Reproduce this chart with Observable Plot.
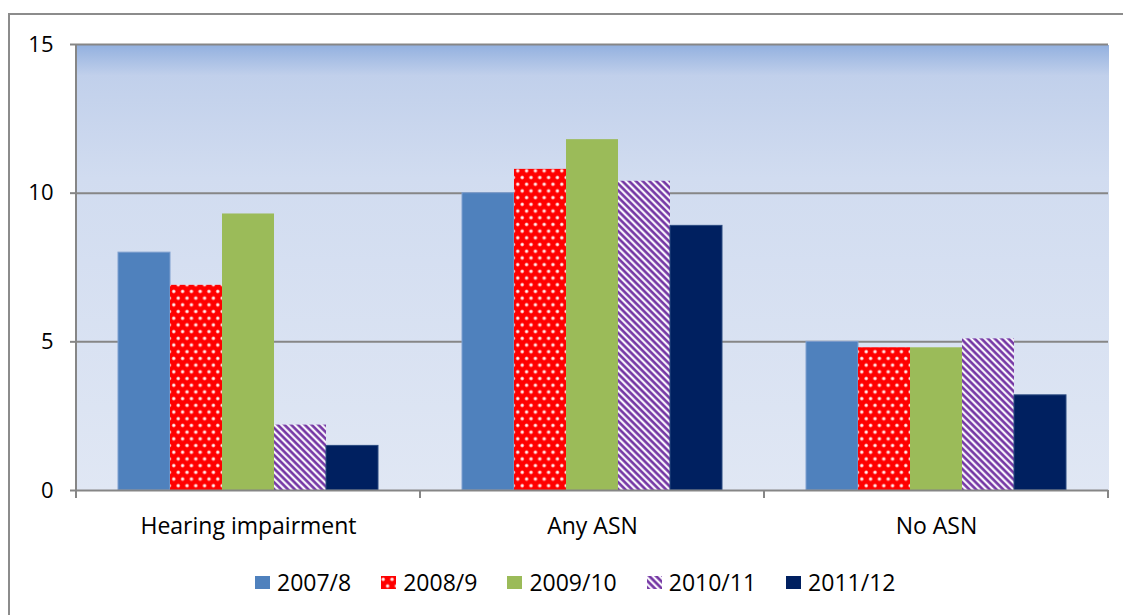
<!DOCTYPE html>
<html>
<head>
<meta charset="utf-8">
<script src="https://cdn.jsdelivr.net/npm/d3@7"></script>
<script src="https://cdn.jsdelivr.net/npm/@observablehq/plot@0.6"></script>
<style>
  body { margin: 0; background: #fff; font-family: "Open Sans", "Noto Sans", sans-serif; }
  #wrap { position: relative; width: 1123px; height: 615px; overflow: hidden; background: #fff; }
  #border { position: absolute; left: 8px; top: 13px; width: 1200px; height: 700px; border: 2px solid #8c8c8c; box-sizing: border-box; }
  #chart { position: absolute; left: 0; top: 0; }
  #legend { position: absolute; top: 571px; left: 255px; display: flex; align-items: center; font-size: 23px; line-height: 23px; color: #000; white-space: nowrap; }
  .item { display: flex; align-items: center; margin-right: 30px; }
  .item svg { margin-right: 7px; display: block; }
</style>
</head>
<body>
<div id="wrap">
  <div id="border"></div>
  <div id="chart"></div>
  <div id="legend"></div>
</div>
<script>
const categories = ["Hearing impairment", "Any ASN", "No ASN"];
const years = ["2007/8", "2008/9", "2009/10", "2010/11", "2011/12"];
const v2007_8  = [8.0, 10.0, 5.0];
const v2008_9  = [6.9, 10.8, 4.8];
const v2009_10 = [9.3, 11.8, 4.8];
const v2010_11 = [2.2, 10.4, 5.1];
const v2011_12 = [1.5, 8.9, 3.2];
const yTicks = [0, 5, 10, 15];

const seriesValues = [v2007_8, v2008_9, v2009_10, v2010_11, v2011_12];
const fills = ["#4f81bd", "url(#dots)", "#9bbb59", "url(#stripes)", "#002060"];
const strokes = ["#7f9fcf", "none", "none", "none", "#2a4a80"];

const rows = [];
years.forEach((yr, i) => {
  categories.forEach((cat, j) => {
    rows.push({category: cat, year: yr, value: seriesValues[i][j]});
  });
});

const font = "'Open Sans', 'Noto Sans', sans-serif";

const chart = Plot.plot({
  width: 1123,
  height: 530,
  marginLeft: 76,
  marginRight: 15,
  marginTop: 44,
  marginBottom: 40,
  style: { fontFamily: font, fontSize: "23px", color: "#000", background: "transparent", overflow: "visible" },
  fx: { domain: categories, padding: 0, axis: null, label: null },
  x: { domain: years, paddingInner: 0, paddingOuter: 0.758, axis: null },
  y: { domain: [0, 15], axis: null, label: null },
  color: { domain: years, range: fills },
  marks: [
    Plot.frame({ fill: "url(#bgGrad)", stroke: null, shapeRendering: "crispEdges", insetRight: -0.5 }),
    Plot.gridY(yTicks.filter(d => d > 0), { stroke: "#868686", strokeOpacity: 1, strokeWidth: 2 }),
    Plot.barY(rows, {
      fx: "category", x: "year", y: "value", fill: "year",
      stroke: d => strokes[years.indexOf(d.year)], strokeWidth: 1, inset: 0
    }),
    Plot.ruleY([0], { stroke: "#868686", strokeWidth: 2 }),
    Plot.axisY(yTicks, { tickSize: 6, tickPadding: 17, stroke: "#868686", strokeWidth: 2, fontSize: 22, label: null }),
    Plot.axisFx({ anchor: "bottom", tickSize: 0, tickPadding: 27, label: null, fontSize: 23 })
  ]
});

document.getElementById("chart").appendChild(chart);

// pattern / gradient definitions
const svg = d3.select(chart);
const defs = svg.insert("defs", ":first-child");
const grad = defs.append("linearGradient").attr("id", "bgGrad")
  .attr("x1", 0).attr("y1", 0).attr("x2", 0).attr("y2", 1);
[[0, "#92b0df"], [0.07, "#c1d0eb"], [0.3, "#d1dcf0"], [1, "#e0e7f4"]].forEach(([o, c]) =>
  grad.append("stop").attr("offset", o).attr("stop-color", c));

const dots = defs.append("pattern").attr("id", "dots").attr("patternUnits", "userSpaceOnUse")
  .attr("width", 8.8).attr("height", 13.4);
dots.append("rect").attr("width", 8.8).attr("height", 13.4).attr("fill", "#ff0000");
[[2.2, 3.35], [6.6, 10.05]].forEach(([cx, cy]) => {
  dots.append("circle").attr("cx", cx).attr("cy", cy).attr("r", 1.9).attr("fill", "#ff9a9a");
  dots.append("circle").attr("cx", cx).attr("cy", cy).attr("r", 1.1).attr("fill", "#ffffff");
});

const stripes = defs.append("pattern").attr("id", "stripes").attr("patternUnits", "userSpaceOnUse")
  .attr("width", 4.8).attr("height", 4.8).attr("patternTransform", "rotate(-45)");
stripes.append("rect").attr("width", 4.8).attr("height", 4.8).attr("fill", "#ffffff");
stripes.append("rect").attr("x", 0.1).attr("width", 3.0).attr("height", 4.8).attr("fill", "#b89ad6");
stripes.append("rect").attr("x", 0.5).attr("width", 2.2).attr("height", 4.8).attr("fill", "#7030a0");

// axis line and category boundary ticks using the plot's scales
const fx = chart.scale("fx");
const y = chart.scale("y");
const bounds = categories.map(c => fx.apply(c)).concat([fx.apply(categories[categories.length - 1]) + fx.bandwidth]);
const g = svg.append("g").attr("stroke", "#868686").attr("stroke-width", 2);
g.append("line").attr("x1", bounds[0]).attr("x2", bounds[0]).attr("y1", y.apply(15)).attr("y2", y.apply(0));
bounds.forEach(b => g.append("line").attr("x1", b).attr("x2", b).attr("y1", y.apply(0)).attr("y2", y.apply(0) + 8));

// legend
const legend = d3.select("#legend");
years.forEach((yr, i) => {
  const it = legend.append("div").attr("class", "item");
  const s = it.append("svg").attr("width", 15).attr("height", 13);
  s.append("rect").attr("width", 15).attr("height", 13).attr("fill", fills[i]);
  it.append("span").text(yr);
});
</script>
</body>
</html>
